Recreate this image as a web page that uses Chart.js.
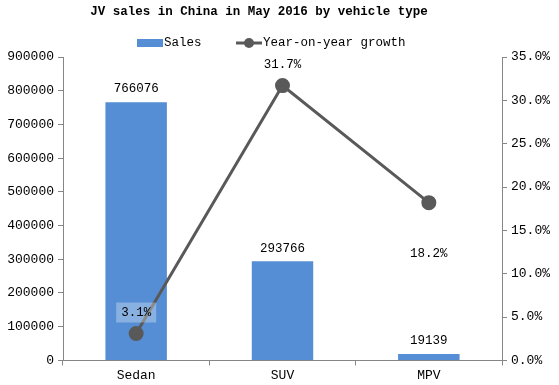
<!DOCTYPE html>
<html>
<head>
<meta charset="utf-8">
<script src="https://cdn.jsdelivr.net/npm/chart.js@4"></script>
<style>
    body { margin: 0; background: #fff; }
    #wrap { width: 559px; height: 385px; }
</style>
</head>
<body>
<div id="wrap"><canvas id="salesChart"></canvas></div>
<script>
const categories = ['Sedan', 'SUV', 'MPV'];
const sales = [766076, 293766, 19139];
const growth = [3.1, 31.7, 18.2];
const growthLabelPos = ['above', 'above', 'below'];

const FONT = '"Liberation Mono", "Courier New", monospace';
const BAR_COLOR = '#558ED5';
const LINE_COLOR = '#595959';
const AXIS_COLOR = '#868686';

// title, legend and value labels drawn by hand
const labelsPlugin = {
    id: 'labels',
    afterDatasetsDraw(chart) {
        const ctx = chart.ctx;
        ctx.save();
        ctx.fillStyle = '#000';
        ctx.font = 'bold 12.5px ' + FONT;
        ctx.textAlign = 'center';
        ctx.textBaseline = 'middle';
        ctx.fillText('JV sales in China in May 2016 by vehicle type', 259, 12);

        // legend
        ctx.font = '12.5px ' + FONT;
        ctx.textAlign = 'left';
        ctx.fillStyle = BAR_COLOR;
        ctx.fillRect(137, 39, 26, 8);
        ctx.fillStyle = '#000';
        ctx.fillText('Sales', 164, 43);
        ctx.strokeStyle = LINE_COLOR;
        ctx.lineWidth = 3;
        ctx.beginPath();
        ctx.moveTo(236, 43);
        ctx.lineTo(262, 43);
        ctx.stroke();
        ctx.fillStyle = LINE_COLOR;
        ctx.beginPath();
        ctx.arc(249, 43, 5, 0, Math.PI * 2);
        ctx.fill();
        ctx.fillStyle = '#000';
        ctx.fillText('Year-on-year growth', 263, 43);

        ctx.textAlign = 'center';
        const bars = chart.getDatasetMeta(1).data;
        bars.forEach((b, i) => {
            ctx.fillText(String(sales[i]), b.x, b.y - 13);
        });
        const pts = chart.getDatasetMeta(0).data;
        pts.forEach((p, i) => {
            const txt = growth[i].toFixed(1) + '%';
            const y = growthLabelPos[i] === 'above' ? p.y - 21 : p.y + 51;
            if (i === 0) {
                ctx.fillStyle = 'rgba(255,255,255,0.3)';
                ctx.fillRect(p.x - 20, y - 10, 40, 20);
            }
            ctx.fillStyle = '#000';
            ctx.fillText(txt, p.x, y);
        });
        ctx.restore();
    }
};

new Chart(document.getElementById('salesChart'), {
    data: {
        labels: categories,
        datasets: [
            {
                type: 'line',
                label: 'Year-on-year growth',
                data: growth,
                yAxisID: 'y1',
                borderColor: LINE_COLOR,
                backgroundColor: LINE_COLOR,
                borderWidth: 3,
                pointRadius: 6,
                pointHoverRadius: 6,
                tension: 0,
                order: 0
            },
            {
                type: 'bar',
                label: 'Sales',
                data: sales,
                yAxisID: 'y',
                backgroundColor: BAR_COLOR,
                barPercentage: 0.42,
                categoryPercentage: 1,
                order: 1
            }
        ]
    },
    options: {
        responsive: true,
        maintainAspectRatio: false,
        animation: false,
        layout: { padding: { top: 57, left: 0, right: 0, bottom: 0 } },
        plugins: {
            legend: { display: false },
            title: { display: false },
            tooltip: { enabled: false }
        },
        scales: {
            x: {
                offset: true,
                grid: { offset: true, drawOnChartArea: false, drawTicks: true, tickLength: 5, color: AXIS_COLOR },
                border: { color: AXIS_COLOR },
                ticks: { color: '#000', font: { family: FONT, size: 13 }, padding: 2 }
            },
            y: {
                position: 'left',
                min: 0,
                max: 900000,
                afterFit(s) { s.width = 63; },
                grid: { drawOnChartArea: false, tickLength: 5, color: AXIS_COLOR },
                border: { color: AXIS_COLOR },
                ticks: {
                    stepSize: 100000,
                    color: '#000',
                    font: { family: FONT, size: 13 },
                    padding: 4,
                    callback: v => String(v)
                }
            },
            y1: {
                position: 'right',
                min: 0,
                max: 35,
                afterFit(s) { s.width = 57; },
                grid: { drawOnChartArea: false, tickLength: 5, color: AXIS_COLOR },
                border: { color: AXIS_COLOR },
                ticks: {
                    stepSize: 5,
                    color: '#000',
                    font: { family: FONT, size: 13 },
                    padding: 4,
                    callback: v => v.toFixed(1) + '%'
                }
            }
        }
    },
    plugins: [labelsPlugin]
});
</script>
</body>
</html>
